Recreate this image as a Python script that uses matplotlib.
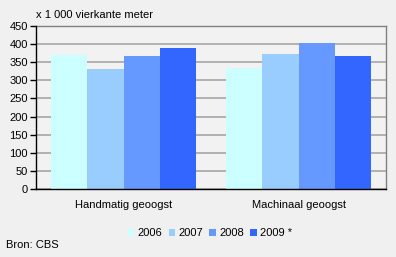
import numpy as np
import matplotlib
matplotlib.use('Agg')
import matplotlib.pyplot as plt

#Data
categories = ['Handmatig geoogst', 'Machinaal geoogst']
years = ['2006', '2007', '2008', '2009 *']
values = {
    '2006': [370, 335],
    '2007': [331, 373],
    '2008': [368, 404],
    '2009 *': [390, 367],
}
colors = ['#CCFFFF', '#99CCFF', '#6699FF', '#3366FF']

plt.rcParams['font.family'] = ['Liberation Sans', 'DejaVu Sans']
plt.rcParams['font.size'] = 8

fig = plt.figure(figsize=(3.96, 2.57), dpi=100, facecolor='#F0F0F0')
ax = fig.add_axes([36/396, 1 - 189/257, 350/396, 163/257])
ax.set_facecolor('#F2F2F2')

x = np.arange(len(categories))
barW = 0.2085
for i, yr in enumerate(years):
    ax.bar(x + (i - 1.5) * barW, values[yr], width=barW, color=colors[i],
           label=yr, zorder=3, linewidth=0)

ax.set_xlim(-0.5, 1.5)
ax.set_ylim(0, 450)
ax.set_yticks(range(0, 451, 50))
ax.yaxis.grid(True, color='#A6A6A6', linewidth=1.2, zorder=0)
ax.set_xticks(x)
ax.set_xticklabels(categories)
ax.tick_params(axis='x', length=0, pad=8)
ax.tick_params(axis='y', length=4, width=1, color='black', pad=2)

ax.spines['left'].set_color('black')
ax.spines['bottom'].set_color('black')
ax.spines['top'].set_color('#808080')
ax.spines['right'].set_color('#808080')
for s in ax.spines.values():
    s.set_linewidth(1)
ax.spines['left'].set_zorder(4)
ax.spines['bottom'].set_zorder(4)

fig.text(36/396, 1 - 15/257, 'x 1 000 vierkante meter', ha='left', va='center')
fig.text(6/396, 1 - 245/257, 'Bron: CBS', ha='left', va='center')

leg = ax.legend(loc='center', bbox_to_anchor=(210/396, 1 - 233/257),
                bbox_transform=fig.transFigure, ncol=4, frameon=False,
                handlelength=0.6, handleheight=0.6, handletextpad=0.3,
                columnspacing=0.55, borderpad=0)

fig.savefig('out.png', dpi=100, facecolor=fig.get_facecolor())
